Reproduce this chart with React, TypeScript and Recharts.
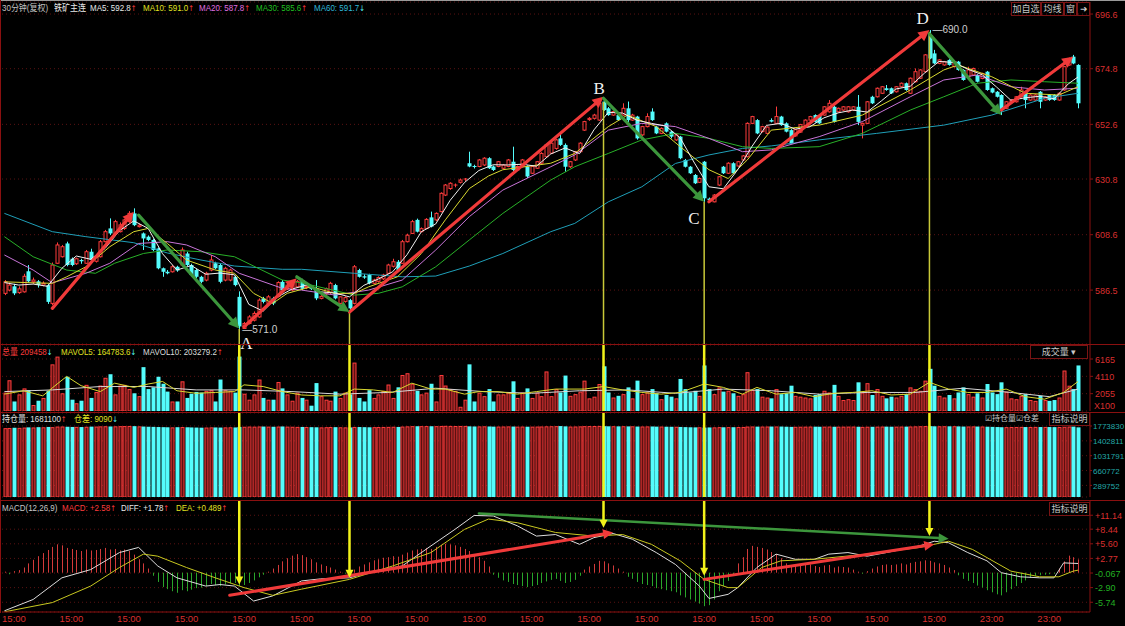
import React from 'react'
import { ComposedChart, Bar, Line, XAxis, YAxis, CartesianGrid, ReferenceLine, ReferenceDot } from 'recharts'

// ---- price data (30 min bars, oldest first) ----
const opens = [
  585.2, 586.5, 588.0, 585.5, 585.8, 594.0, 589.8, 590.0, 588.5, 588.5,
  581.2, 597.2, 599.8, 605.1, 599.0, 597.0, 598.5, 597.2, 601.8, 598.0,
  599.8, 605.8, 611.1, 609.1, 609.8, 611.1, 613.8, 617.1, 611.8, 609.1,
  607.8, 606.5, 603.1, 595.2, 593.8, 593.8, 595.8, 596.5, 601.1, 596.5,
  594.5, 591.8, 590.5, 594.5, 597.2, 596.5, 590.5, 590.5, 591.8, 583.8,
  571.2, 573.2, 574.5, 575.8, 583.2, 581.2, 583.2, 584.0, 589.8, 587.0,
  586.5, 587.8, 590.5, 587.5, 588.0, 587.2, 583.2, 585.0, 585.5, 588.5,
  581.2, 582.0, 582.5, 581.2, 594.5, 592.0, 592.5, 589.2, 590.0, 591.0,
  593.2, 596.0, 597.8, 597.2, 605.8, 609.1, 614.5, 609.8, 611.1, 615.5,
  614.5, 617.8, 624.4, 627.0, 628.0, 629.5, 630.4, 637.1, 635.8, 635.8,
  636.4, 639.1, 635.8, 635.8, 635.1, 635.8, 637.7, 634.4, 635.8, 635.8,
  633.1, 635.1, 637.1, 639.7, 641.1, 643.0, 647.0, 644.4, 635.7, 638.4,
  641.7, 650.3, 654.5, 655.0, 654.3, 661.7, 659.0, 656.3, 656.3, 656.3,
  659.0, 654.3, 655.7, 648.4, 651.7, 657.7, 651.7, 649.0, 653.0, 649.7,
  646.4, 647.7, 638.4, 635.7, 632.4, 629.5, 637.7, 623.0, 621.7, 628.4,
  635.7, 633.1, 637.1, 636.0, 638.4, 639.7, 653.0, 654.3, 649.7, 649.0,
  654.3, 653.0, 655.7, 653.0, 650.3, 648.0, 649.5, 652.0, 654.3, 656.3,
  656.3, 656.3, 657.6, 659.6, 657.6, 658.3, 657.6, 658.3, 659.6, 652.3,
  653.0, 663.6, 663.6, 665.0, 667.0, 667.0, 665.6, 667.6, 669.0, 665.0,
  669.6, 671.0, 673.6, 688.2, 680.9, 676.9, 676.3, 678.3, 675.6, 677.6,
  674.3, 671.6, 672.3, 672.3, 670.9, 673.6, 667.0, 665.6, 664.3, 659.0,
  661.6, 661.6, 663.6, 665.6, 662.3, 662.3, 665.6, 662.3, 664.3, 664.3,
  662.3, 666.3, 676.3, 679.6, 676.3,
]
const highs = [
  590.5, 589.5, 589.0, 588.0, 593.0, 596.5, 591.5, 590.5, 590.0, 589.0,
  597.5, 605.5, 604.5, 605.8, 599.5, 599.5, 599.0, 602.5, 603.0, 600.5,
  606.5, 610.5, 615.1, 614.5, 613.5, 615.0, 618.0, 619.1, 613.0, 609.5,
  608.3, 607.0, 603.5, 595.5, 594.5, 596.5, 596.2, 603.5, 601.8, 597.0,
  595.0, 592.2, 593.8, 600.5, 597.8, 597.0, 595.8, 595.0, 592.2, 586.0,
  573.8, 576.5, 578.0, 583.2, 583.8, 584.5, 583.8, 590.0, 590.5, 589.0,
  589.5, 590.5, 591.0, 588.5, 588.5, 590.5, 584.5, 587.5, 589.8, 589.0,
  584.0, 584.0, 583.0, 596.5, 595.0, 592.8, 593.0, 591.0, 592.0, 593.0,
  597.0, 599.0, 598.5, 606.5, 609.0, 614.5, 615.0, 611.5, 615.2, 617.8,
  617.5, 625.5, 628.8, 629.5, 629.0, 631.0, 631.2, 641.7, 636.5, 638.8,
  639.5, 639.5, 636.2, 638.0, 636.8, 638.8, 643.7, 636.2, 638.8, 636.2,
  636.2, 638.0, 641.5, 644.8, 645.5, 646.8, 649.0, 645.0, 638.0, 642.0,
  645.5, 654.0, 655.5, 656.8, 661.5, 663.0, 659.5, 658.0, 656.8, 661.0,
  661.7, 656.8, 656.0, 652.0, 657.0, 659.0, 652.0, 651.4, 653.4, 650.0,
  648.8, 648.0, 638.8, 636.0, 632.8, 631.4, 638.0, 623.4, 624.8, 632.0,
  636.0, 637.5, 637.5, 638.0, 640.4, 653.4, 656.0, 654.7, 652.0, 651.8,
  655.0, 659.7, 656.0, 653.4, 650.7, 650.8, 652.8, 654.6, 656.0, 656.6,
  656.6, 659.9, 662.3, 660.0, 659.3, 659.9, 659.9, 659.9, 664.3, 653.3,
  661.9, 664.0, 667.3, 667.9, 668.3, 667.3, 667.9, 669.3, 669.3, 671.3,
  674.9, 674.6, 680.6, 690.2, 682.3, 678.6, 677.9, 678.6, 677.9, 677.9,
  674.6, 675.6, 675.2, 672.6, 673.2, 673.9, 667.3, 665.9, 664.6, 661.9,
  662.6, 663.9, 667.6, 665.9, 664.6, 664.6, 665.9, 663.9, 664.6, 664.6,
  665.3, 675.9, 679.2, 680.3, 676.6,
]
const lows = [
  584.5, 586.0, 584.5, 585.0, 585.5, 589.5, 589.0, 587.5, 588.0, 581.0,
  580.5, 597.0, 599.5, 596.0, 596.0, 596.5, 597.0, 597.0, 598.0, 597.5,
  599.5, 605.5, 608.5, 608.8, 609.5, 610.5, 613.5, 612.0, 611.5, 602.5,
  606.0, 602.0, 594.8, 591.8, 592.8, 593.5, 593.8, 596.0, 596.0, 592.0,
  591.2, 589.2, 590.0, 594.0, 594.8, 589.2, 590.0, 590.0, 588.0, 571.0,
  571.0, 572.8, 574.0, 575.5, 581.2, 580.8, 580.5, 583.5, 586.0, 586.5,
  586.0, 587.5, 586.5, 587.0, 586.5, 582.5, 582.8, 584.5, 585.0, 582.8,
  580.8, 581.5, 577.8, 580.8, 591.5, 591.0, 588.8, 588.8, 589.5, 590.5,
  593.0, 595.5, 594.0, 597.0, 605.5, 609.0, 609.5, 609.5, 611.0, 611.5,
  614.0, 617.5, 624.0, 626.5, 627.5, 629.0, 630.0, 635.5, 635.0, 635.5,
  636.0, 634.8, 634.0, 635.5, 634.8, 635.5, 634.0, 634.0, 635.5, 631.2,
  632.8, 634.8, 636.8, 639.5, 640.8, 642.5, 644.0, 633.7, 635.2, 638.0,
  641.4, 650.0, 654.0, 654.5, 654.0, 658.0, 656.0, 656.0, 654.0, 656.0,
  653.0, 654.0, 646.5, 648.0, 651.4, 654.0, 648.7, 648.7, 649.4, 647.0,
  646.0, 638.7, 635.4, 632.8, 628.8, 629.2, 621.7, 622.0, 621.5, 628.0,
  632.8, 632.8, 632.8, 635.7, 638.0, 639.4, 652.7, 648.7, 649.4, 648.7,
  653.4, 652.7, 652.0, 649.4, 644.8, 647.7, 649.2, 651.7, 654.0, 653.3,
  652.7, 656.0, 657.3, 653.3, 657.3, 658.0, 657.3, 658.0, 652.3, 647.0,
  652.7, 660.7, 663.3, 664.7, 666.0, 664.7, 665.3, 667.3, 666.0, 664.7,
  669.3, 670.7, 673.3, 678.6, 676.6, 676.6, 676.0, 676.0, 675.3, 674.0,
  670.0, 671.3, 672.0, 669.3, 670.6, 666.0, 665.0, 663.3, 656.3, 658.7,
  661.3, 661.3, 663.3, 659.0, 662.0, 662.0, 659.0, 662.0, 662.0, 662.0,
  662.0, 666.0, 676.0, 676.6, 659.0,
]
const closes = [
  589.8, 588.5, 585.2, 587.0, 592.0, 590.0, 590.5, 588.5, 589.2, 581.8,
  596.5, 604.5, 603.8, 596.5, 596.5, 599.0, 598.0, 601.8, 598.5, 599.8,
  605.8, 609.8, 609.1, 613.8, 612.5, 614.5, 617.1, 612.4, 612.4, 607.1,
  606.5, 602.5, 595.2, 593.8, 593.2, 595.8, 594.3, 602.5, 596.5, 592.5,
  591.8, 589.8, 593.2, 598.5, 595.2, 589.8, 595.2, 594.5, 588.5, 572.0,
  573.2, 575.8, 577.2, 582.5, 581.8, 583.8, 581.2, 589.5, 586.5, 588.5,
  589.0, 590.0, 587.0, 588.0, 587.0, 583.2, 584.0, 587.0, 589.2, 583.2,
  583.8, 583.5, 579.2, 595.8, 591.8, 591.5, 589.2, 590.5, 591.5, 592.5,
  596.5, 597.8, 594.5, 605.8, 608.4, 613.8, 609.8, 611.0, 614.7, 611.8,
  617.1, 625.1, 628.4, 629.1, 628.4, 630.4, 630.8, 635.8, 635.5, 638.4,
  639.1, 635.1, 634.4, 637.7, 636.4, 638.4, 634.4, 635.8, 638.4, 631.8,
  635.8, 637.7, 641.0, 644.4, 645.1, 646.4, 644.4, 635.7, 637.7, 641.7,
  645.1, 653.7, 655.0, 656.3, 661.0, 658.3, 656.3, 657.7, 654.3, 659.0,
  654.3, 656.3, 647.0, 651.7, 655.7, 654.3, 649.0, 651.0, 649.7, 647.7,
  648.4, 639.1, 635.7, 633.1, 629.1, 631.0, 623.1, 622.4, 624.4, 631.7,
  633.1, 637.1, 633.1, 637.7, 640.0, 653.0, 655.7, 649.0, 651.7, 651.5,
  653.7, 655.7, 652.3, 649.7, 645.1, 650.5, 652.5, 654.3, 655.7, 653.6,
  653.0, 659.6, 661.0, 653.6, 659.0, 659.6, 659.6, 659.6, 653.6, 653.0,
  661.6, 661.0, 667.0, 667.6, 666.3, 665.0, 667.6, 669.0, 666.3, 671.0,
  673.6, 674.3, 680.3, 678.9, 676.9, 678.3, 677.6, 676.3, 677.6, 674.3,
  670.3, 674.3, 674.9, 669.6, 672.9, 666.3, 665.3, 663.6, 658.3, 661.6,
  662.3, 663.6, 666.3, 662.3, 664.3, 664.3, 661.6, 663.6, 662.3, 662.3,
  665.0, 675.6, 678.9, 676.9, 661.0,
]

// moving averages, read at sampled bars: [bar, value]
const ma5Pts = [
  [0, 589.5], [3, 588.5], [6, 588.9], [9, 588.0], [12, 595.2], [15, 600.1], [18, 598.8], [21, 603.1],
  [24, 610.2], [27, 614.1], [30, 611.1], [33, 601.0], [36, 594.5], [39, 596.3], [42, 592.8], [45, 593.3],
  [48, 592.6], [51, 580.8], [54, 578.1], [57, 583.8], [60, 586.9], [63, 588.5], [66, 585.8], [69, 585.3],
  [72, 583.8], [75, 588.4], [78, 590.9], [81, 593.8], [84, 600.6], [87, 609.8], [90, 612.9], [93, 622.3],
  [96, 629.4], [99, 634.2], [102, 636.5], [105, 636.4], [108, 636.7], [111, 635.9], [114, 640.8], [117, 643.2],
  [120, 640.9], [123, 650.4], [126, 657.4], [129, 657.1], [132, 654.2], [135, 653.0], [138, 651.9], [141, 647.2],
  [144, 637.1], [147, 627.7], [150, 626.9], [153, 634.5], [156, 643.9], [159, 652.2], [162, 653.0], [165, 650.7],
  [168, 651.6], [171, 655.2], [174, 657.2], [177, 658.3], [180, 657.5], [183, 662.0], [186, 666.7], [189, 667.8],
  [192, 673.1], [195, 677.7], [198, 677.3], [201, 674.6], [204, 672.4], [207, 667.5], [210, 662.2], [213, 663.2],
  [216, 663.8], [219, 662.8], [222, 668.8], [224, 671.5],
]
const ma10Pts = [
  [0, 589.8], [6, 589.4], [10, 589.2], [13, 591.8], [17, 595.8], [22, 603.8], [27, 609.8], [30, 611.1],
  [34, 605.1], [38, 598.5], [44, 594.5], [48, 593.2], [52, 585.2], [56, 581.2], [59, 585.2], [64, 587.8],
  [69, 585.2], [73, 585.2], [76, 587.8], [82, 591.8], [87, 601.1], [92, 614.5], [97, 627.0], [101, 632.0],
  [104, 634.5], [114, 637.1], [119, 641.0], [126, 651.7], [130, 656.3], [136, 651.7], [141, 643.7], [147, 634.5],
  [151, 631.0], [155, 638.4], [160, 650.3], [170, 652.3], [179, 656.3], [189, 666.3], [196, 674.3], [199, 676.3],
  [206, 671.6], [213, 665.0], [220, 664.3], [224, 667.6],
]
const ma20Pts = [
  [0, 600.5], [6, 594.5], [10, 589.4], [17, 593.2], [22, 597.2], [28, 605.1], [34, 605.8], [38, 604.5],
  [44, 599.8], [49, 593.2], [58, 587.2], [62, 586.5], [69, 584.5], [76, 586.5], [83, 590.5], [90, 602.5],
  [97, 615.8], [104, 626.4], [114, 635.7], [119, 640.4], [126, 650.3], [133, 653.0], [140, 651.7], [147, 647.0],
  [154, 641.7], [160, 642.4], [170, 647.7], [179, 653.7], [189, 663.6], [196, 670.3], [203, 672.3], [210, 667.6],
  [217, 666.3], [224, 667.0],
]
const ma30Pts = [
  [0, 607.8], [6, 599.8], [13, 594.5], [19, 593.2], [23, 597.2], [29, 601.1], [34, 602.5], [41, 601.8],
  [48, 599.8], [58, 590.5], [62, 589.4], [73, 584.5], [78, 585.2], [83, 587.8], [90, 595.8], [97, 606.5],
  [104, 617.1], [114, 630.4], [119, 635.7], [126, 641.0], [133, 646.4], [140, 649.0], [147, 647.0], [154, 643.7],
  [160, 643.0], [170, 643.7], [179, 649.0], [189, 658.3], [196, 663.6], [203, 669.0], [210, 670.3], [217, 669.6],
  [224, 669.0],
]
const ma60Pts = [
  [0, 617.1], [10, 609.8], [17, 607.8], [27, 605.4], [34, 601.3], [41, 598.5], [48, 596.1], [58, 594.8],
  [62, 594.8], [73, 593.2], [83, 591.8], [90, 592.1], [97, 596.1], [104, 601.1], [114, 609.8], [119, 613.1],
  [126, 621.7], [133, 627.7], [140, 637.0], [147, 640.4], [154, 643.0], [160, 644.0], [170, 646.4], [182, 649.0],
  [196, 652.3], [206, 656.3], [217, 663.0], [224, 665.0],
]

// volume (x100 lots)
const volumes = [
  2180, 3645, 1130, 1970, 2680, 2470, 710, 1220, 1550, 2390,
  5530, 6450, 2100, 4060, 1340, 920, 1220, 3100, 1550, 2260,
  3020, 3940, 4360, 1970, 3020, 3100, 2600, 2100, 1760, 5200,
  2600, 2810, 4060, 3230, 2300, 1130, 1130, 3520, 1550, 2050,
  2260, 2180, 2390, 2470, 1130, 3730, 2470, 2390, 2180, 6450,
  2050, 1340, 1970, 3730, 1550, 1340, 1340, 3440, 2680, 1970,
  1220, 2180, 1550, 1340, 630, 3310, 1760, 1340, 1220, 2300,
  1550, 2180, 1970, 5740, 1550, 1130, 2470, 1550, 1970, 2390,
  3140, 1550, 2810, 4270, 4480, 3230, 2390, 1970, 2180, 3230,
  1130, 4270, 3020, 2600, 2390, 500, 1340, 5530, 1130, 2180,
  1760, 2600, 1130, 1970, 1970, 2180, 3520, 1550, 2180, 2680,
  1550, 2180, 1760, 4690, 1760, 2600, 2200, 4200, 1800, 2000,
  2300, 3600, 1500, 1700, 3200, 5300, 2200, 1600, 1800, 2000,
  2800, 1500, 3600, 2000, 2200, 2600, 2100, 1400, 1900, 1700,
  1500, 3800, 2600, 2200, 2400, 1800, 5400, 2600, 2000, 2800,
  2300, 2400, 2100, 1800, 2000, 4600, 2500, 2600, 1700, 1600,
  1500, 2600, 2000, 2100, 3000, 1800, 1700, 1600, 1500, 1900,
  2000, 2400, 2200, 3100, 1800, 1300, 1400, 1300, 3400, 2200,
  3300, 1900, 2600, 1800, 1500, 1700, 1600, 1800, 2000, 2800,
  2600, 2400, 3600, 5000, 3000, 1800, 1600, 1900, 1500, 2200,
  2800, 2000, 1700, 2100, 1600, 3200, 2200, 2000, 3400, 2300,
  1500, 1400, 1800, 2000, 1300, 1200, 1800, 1300, 1200, 1300,
  1600, 4800, 3000, 2600, 5400,
]
const mavol5Pts = [
  [0, 2000], [4, 2400], [8, 1800], [11, 3200], [13, 4100], [16, 3000], [20, 2300], [23, 3300], [27, 2800],
  [30, 3200], [33, 3500], [36, 2400], [40, 2100], [44, 2200], [48, 2300], [50, 3100], [54, 2900], [58, 2300],
  [62, 1900], [66, 1800], [70, 1800], [73, 2600], [77, 2500], [81, 2200], [85, 3300], [89, 2600], [92, 2600],
  [96, 2000], [99, 2300], [103, 2300], [107, 2000], [111, 2300], [115, 2600], [118, 2600], [121, 2600],
  [125, 2900], [129, 2500], [133, 2200], [137, 2000], [141, 2200], [146, 3200], [150, 2800], [154, 2000],
  [157, 2800], [161, 2000], [165, 2200], [169, 1700], [173, 2100], [177, 2200], [181, 2400], [185, 1900],
  [189, 2000], [193, 3400], [197, 2600], [201, 2200], [205, 2200], [209, 2600], [213, 1700], [217, 1400],
  [221, 2200], [224, 3500],
]
const mavol10Pts = [
  [0, 2300], [10, 2500], [20, 2900], [30, 2900], [40, 2500], [50, 2500], [60, 2300], [70, 2000], [80, 2200],
  [90, 2700], [100, 2300], [110, 2100], [120, 2400], [130, 2500], [140, 2100], [150, 2600], [160, 2400],
  [170, 2000], [180, 2200], [190, 2200], [200, 2700], [210, 2200], [218, 1700], [224, 2600],
]

// open interest, thousands of lots
const openInterest = [
  1720, 1725, 1730, 1728, 1735, 1740, 1738, 1745, 1742, 1750,
  1745, 1760, 1762, 1755, 1750, 1752, 1748, 1755, 1758, 1760,
  1765, 1768, 1762, 1766, 1770, 1772, 1775, 1770, 1765, 1760,
  1755, 1752, 1748, 1745, 1742, 1740, 1744, 1748, 1742, 1738,
  1735, 1732, 1736, 1740, 1738, 1735, 1740, 1742, 1738, 1750,
  1755, 1760, 1758, 1762, 1760, 1758, 1755, 1760, 1762, 1758,
  1755, 1752, 1750, 1748, 1745, 1742, 1740, 1744, 1748, 1745,
  1742, 1740, 1738, 1750, 1748, 1745, 1742, 1745, 1748, 1750,
  1752, 1755, 1750, 1760, 1765, 1770, 1768, 1770, 1772, 1768,
  1770, 1775, 1778, 1776, 1774, 1775, 1776, 1765, 1762, 1764,
  1766, 1762, 1758, 1760, 1762, 1764, 1760, 1758, 1760, 1756,
  1758, 1760, 1762, 1766, 1768, 1770, 1772, 1765, 1760, 1762,
  1765, 1770, 1772, 1774, 1776, 1770, 1766, 1768, 1765, 1768,
  1764, 1766, 1760, 1762, 1764, 1762, 1758, 1760, 1756, 1754,
  1755, 1750, 1746, 1742, 1740, 1742, 1735, 1738, 1740, 1745,
  1742, 1746, 1744, 1748, 1750, 1760, 1762, 1758, 1760, 1761,
  1760, 1762, 1760, 1756, 1752, 1754, 1756, 1758, 1760, 1757,
  1755, 1758, 1760, 1755, 1757, 1758, 1759, 1760, 1755, 1752,
  1756, 1754, 1758, 1760, 1758, 1756, 1758, 1760, 1758, 1762,
  1765, 1768, 1772, 1770, 1766, 1767, 1768, 1766, 1768, 1764,
  1760, 1762, 1764, 1760, 1762, 1756, 1752, 1748, 1744, 1746,
  1748, 1750, 1752, 1748, 1750, 1752, 1748, 1750, 1748, 1746,
  1748, 1755, 1760, 1758, 1740,
]

// MACD(12,26,9)
const macdHist = [
  0.2, -0.3, 0.3, 0.5, 1.0, 1.8, 2.5, 3.2, 3.8, 4.4,
  5.0, 5.5, 5.3, 4.8, 4.6, 4.4, 4.2, 4.5, 4.3, 4.4,
  4.6, 4.8, 4.5, 4.6, 4.3, 4.5, 4.2, 3.5, 2.6, 1.8,
  0.8, -0.6, -1.8, -2.8, -3.2, -3.6, -3.9, -3.4, -3.6, -3.3,
  -3.0, -2.9, -2.6, -2.2, -2.4, -2.6, -2.3, -2.1, -2.0, -2.6,
  -2.4, -2.0, -1.5, -0.9, -0.4, 0.2, 0.8, 1.5, 2.2, 2.8,
  3.3, 3.6, 3.4, 3.0, 2.6, 2.0, 1.6, 1.3, 1.0, 0.6,
  0.2, -0.2, -0.4, 0.6, 1.2, 1.6, 2.0, 2.4, 2.6, 2.9,
  3.0, 3.2, 3.1, 3.5, 3.9, 4.3, 4.5, 4.6, 4.8, 4.6,
  5.0, 5.4, 5.6, 5.5, 5.3, 5.0, 4.6, 4.2, 3.6, 3.0,
  2.3, 1.2, -0.4, -1.0, -1.5, -1.8, -2.2, -2.4, -2.6, -2.8,
  -2.6, -2.4, -2.0, -1.7, -1.4, -1.2, -1.6, -2.0, -1.8, -1.4,
  -0.6, 0.6, 1.2, 1.7, 2.3, 2.2, 1.8, 1.4, 0.8, 0.2,
  -0.8, -1.2, -1.8, -2.2, -2.4, -2.6, -3.0, -3.2, -3.4, -3.6,
  -3.8, -4.4, -4.8, -5.2, -5.6, -6.0, -6.5, -6.3, -5.2, -3.6,
  -2.6, -1.6, -0.6, 1.8, 3.0, 4.6, 5.2, 5.0, 4.8, 4.5,
  4.0, 3.6, 2.8, 1.8, 1.2, 1.4, 1.6, 1.5, 1.6, 1.3,
  1.1, 1.4, 1.5, 1.0, 1.2, 1.1, 1.0, 0.6, 0.2, -0.2,
  0.3, 0.8, 1.2, 1.5, 1.6, 1.5, 1.6, 1.8, 1.6, 1.9,
  2.1, 2.2, 2.4, 2.3, 2.0, 1.8, 1.5, 1.0, 0.5, -0.5,
  -1.2, -1.6, -2.0, -2.5, -2.9, -3.4, -3.8, -4.2, -4.4, -3.8,
  -3.2, -2.6, -2.0, -1.5, -1.0, -0.6, -0.5, -0.4, -0.3, -0.2,
  0.8, 2.2, 3.3, 3.0, 2.58,
]
const diffPts = [
  [0, -7.4], [6, -5.2], [12, -1.0], [18, 0.6], [24, 3.9], [28, 4.9], [32, 1.3], [36, -1.0], [42, -2.6],
  [45, -2.3], [48, -2.6], [52, -5.5], [56, -4.5], [62, -1.6], [66, -1.2], [72, -1.0], [77, 0.3], [83, 1.3],
  [89, 5.2], [94, 8.4], [98, 11.1], [102, 11.0], [107, 9.1], [111, 7.1], [115, 7.4], [120, 5.5], [123, 6.8],
  [127, 7.6], [131, 6.5], [136, 3.9], [140, 1.6], [145, -2.6], [147, -5.0], [151, -4.2], [153, -2.9],
  [157, 1.0], [161, 3.6], [165, 2.6], [169, 2.6], [172, 3.6], [176, 3.9], [180, 3.2], [184, 3.9], [191, 5.2],
  [194, 6.1], [197, 5.8], [201, 3.9], [205, 2.3], [208, 0], [212, -0.8], [216, -1.0], [219, -1.0], [221, 1.9],
  [224, 1.78],
]
const deaPts = [
  [0, -7.6], [10, -5.8], [18, -2.6], [24, 1.0], [29, 3.6], [32, 3.2], [38, 1.0], [44, -1.0], [50, -2.9],
  [56, -4.4], [62, -3.2], [72, -1.3], [81, 1.3], [89, 3.9], [96, 8.4], [101, 10.4], [107, 9.7], [115, 7.8],
  [123, 7.1], [129, 7.4], [135, 5.5], [141, 2.3], [146, -1.3], [151, -2.9], [153, -2.9], [158, 1.0],
  [162, 2.3], [169, 2.6], [180, 3.6], [191, 4.9], [197, 6.1], [202, 4.5], [210, 0.3], [216, -0.8],
  [220, -0.8], [223, 0.3], [224, 0.49],
]

// axis ticks
const priceTicks = [696.6, 674.8, 652.6, 630.8, 608.6, 586.5]
const volTicks = [6165, 4110, 2055]
const oiTicks = [1773.83, 1402.811, 1031.791, 660.772, 289.752]
const macdTicks = [11.14, 8.44, 5.6, 2.77, -0.067, -2.9, -5.74]
const macdTickText = ['+11.14', '+8.44', '+5.60', '+2.77', '-0.067', '-2.90', '-5.74']
const timeTicks = [2, 14, 26, 38, 50, 62, 74, 86, 98, 110, 122, 134, 146, 158, 170, 182, 194, 206, 218]
const timeLabels = [
  '15:00', '15:00', '15:00', '15:00', '15:00', '15:00', '15:00', '15:00', '15:00', '15:00',
  '15:00', '15:00', '15:00', '15:00', '15:00', '15:00', '15:00', '23:00', '23:00',
]

// marked turning points [bar, price] and wave arrows
const pivots = { A: [49, 571.0], A2: [72, 577.8], B: [125, 661.5], C: [146, 621.7], D: [193, 689.5] }
const upWaves = [
  [[10, 579.2], [27, 617.7]], [[50, 571.9], [61, 591.2]], [[72, 577.8], [125, 663.6]],
  [[147, 621.7], [193, 690.2]], [[208, 658.3], [223, 679.6]],
]
const downWaves = [
  [[28, 616.4], [49, 571.2]], [[61, 591.8], [72, 577.8]], [[125, 663.0], [146, 621.7]], [[193, 688.7], [208, 656.3]],
]
const macdRed = [[[47, -4.4], [127, 7.8]], [[146, -1.3], [194, 5.5]]]
const macdGreen = [[[99, 11.5], [197, 6.6]]]
const macdDrop = [[49, -2.3], [72, -1.0], [125, 8.7], [146, -0.6], [193, 7.1]]

const SLOTS = 227
const RED = '#ff3c3c'
const CYAN = '#54fcfc'
const AX = '#d92f2f'
const LINE = '#8a1010'
const GRID = '#5a1212'
const FONT = '"Liberation Sans", Arial, sans-serif'
const MIX = '"Liberation Sans", "Noto Sans CJK SC", sans-serif'

const toMap = (pts: number[][]) => new Map(pts.map(([i, v]) => [i, v]))
const m5 = toMap(ma5Pts), m10 = toMap(ma10Pts), m20 = toMap(ma20Pts), m30 = toMap(ma30Pts), m60 = toMap(ma60Pts)
const mv5 = toMap(mavol5Pts), mv10 = toMap(mavol10Pts), mdiff = toMap(diffPts), mdea = toMap(deaPts)

const rows = Array.from({ length: SLOTS }, (_, i) => ({
  i,
  range: i < closes.length ? [lows[i], highs[i]] : undefined,
  open: opens[i], high: highs[i], low: lows[i], close: closes[i],
  vol: volumes[i], oi: openInterest[i], hist: macdHist[i],
  ma5: m5.get(i), ma10: m10.get(i), ma20: m20.get(i), ma30: m30.get(i), ma60: m60.get(i),
  mv5: mv5.get(i), mv10: mv10.get(i), diff: mdiff.get(i), dea: mdea.get(i),
}))

const box = (p: any) => {
  const top = Math.min(p.y, p.y + p.height)
  return { top, h: Math.abs(p.height), cx: Math.round(p.x + p.width / 2) + 0.5 }
}

function Candle(props: any) {
  const { payload } = props
  if (!payload || payload.close == null) return null
  const { top, h, cx } = box(props)
  const { open, close, high, low } = payload
  const span = high - low
  const py = (v: number) => (span > 0 ? top + ((high - v) / span) * h : top)
  const up = close >= open
  const c = up ? RED : CYAN
  const bt = py(Math.max(open, close))
  const bb = py(Math.min(open, close))
  return (
    <g>
      <line x1={cx} x2={cx} y1={top} y2={top + h} stroke={c} strokeWidth={1} />
      {bb - bt < 1.2 ? (
        <line x1={cx - 2} x2={cx + 2} y1={bt} y2={bt} stroke={c} strokeWidth={1} />
      ) : up ? (
        <rect x={cx - 1.5} y={bt} width={3} height={bb - bt} fill="#000" stroke={c} strokeWidth={1} />
      ) : (
        <rect x={cx - 2} y={bt} width={4} height={bb - bt} fill={c} />
      )}
    </g>
  )
}

function ColumnBar(props: any) {
  const { payload } = props
  if (!payload || payload.close == null) return null
  const { top, h, cx } = box(props)
  const up = payload.close >= payload.open
  return up ? (
    <rect x={cx - 1.5} y={top + 0.5} width={3} height={Math.max(h - 0.5, 0)} fill="#5c1010" stroke={RED} strokeWidth={1} />
  ) : (
    <rect x={cx - 2} y={top} width={4} height={h} fill={CYAN} />
  )
}

function HistBar(props: any) {
  const { payload } = props
  if (!payload || payload.hist == null) return null
  const { top, h, cx } = box(props)
  return <line x1={cx} x2={cx} y1={top} y2={top + h} stroke={payload.hist >= 0 ? '#d23a3a' : '#2aa52a'} strokeWidth={1} />
}

const arrowShape = (color: string, w: number, head: number) => (p: any) => {
  const { x1, y1, x2, y2 } = p
  if (x1 == null) return null
  const a = Math.atan2(y2 - y1, x2 - x1)
  const hx = x2 - head * Math.cos(a)
  const hy = y2 - head * Math.sin(a)
  const nx = Math.sin(a) * head * 0.5
  const ny = -Math.cos(a) * head * 0.5
  return (
    <g>
      <line x1={x1} y1={y1} x2={hx} y2={hy} stroke={color} strokeWidth={w} strokeLinecap="round" />
      <polygon points={`${x2},${y2} ${hx + nx},${hy + ny} ${hx - nx},${hy - ny}`} fill={color} />
    </g>
  )
}
const plainShape = (color: string, w: number) => (p: any) =>
  p.x1 == null ? null : <line x1={p.x1} y1={p.y1} x2={p.x2} y2={p.y2} stroke={color} strokeWidth={w} />

const rightTick = (color: (v: number) => string, fmt: (v: number) => string, size = 9) => (p: any) => (
  <text x={p.x} y={p.y} dy={3.5} fill={color(p.payload.value)} fontSize={size} fontFamily={FONT} textAnchor="start">
    {fmt(p.payload.value)}
  </text>
)

const textAt = (txt: string, dx: number, dy: number, size: number, color: string, serif = false) => (p: any) => (
  <text x={p.cx + dx} y={p.cy + dy} fill={color} fontSize={size} fontFamily={serif ? '"Liberation Serif", "DejaVu Serif", serif' : FONT}>
    {txt}
  </text>
)

const ma = (key: string, color: string) => (
  <Line key={key} dataKey={key} stroke={color} strokeWidth={1} dot={false} connectNulls isAnimationActive={false} />
)

const up = <span style={{ color: RED, fontFamily: '"DejaVu Sans"', fontSize: 8 }}>↑</span>
const dn = <span style={{ color: CYAN, fontFamily: '"DejaVu Sans"', fontSize: 8 }}>↓</span>

// header line: [left, colour, content]; narrow software font, so squeeze a bit
function Header({ top, items }: { top: number; items: [number, string, any][] }) {
  return (
    <>
      {items.map(([x, color, content], k) => (
        <div key={k} style={{ position: 'absolute', left: x, top, fontSize: 9.5, lineHeight: '12px', fontFamily: MIX, color, whiteSpace: 'nowrap', transform: 'scaleX(0.84)', transformOrigin: 'left center' }}>
          {content}
        </div>
      ))}
    </>
  )
}

function Btn({ x, y, w, children }: any) {
  return (
    <div style={{ position: 'absolute', left: x, top: y, width: w, height: 14, border: '1px solid #7a1414', color: '#c8c8c8', fontSize: 9, lineHeight: '12px', textAlign: 'center', fontFamily: MIX, boxSizing: 'border-box', whiteSpace: 'nowrap', overflow: 'hidden' }}>
      {children}
    </div>
  )
}

export default function App() {
  const yellowMain = '#c8c838'
  const yellow = '#f2f21a'
  return (
    <div style={{ position: 'fixed', left: 0, top: 0, width: 1125, height: 626, background: '#000', overflow: 'hidden' }}>
      {/* price pane */}
      <div style={{ position: 'absolute', left: 0, top: 0 }}>
        <ComposedChart width={1125} height={358} data={rows} margin={{ top: 2, right: 0, bottom: 14, left: 2 }} barCategoryGap={0}>
          <CartesianGrid vertical={false} stroke={GRID} strokeDasharray="1 3" />
          <XAxis dataKey="i" hide />
          <YAxis orientation="right" width={35} type="number" domain={[565, 701.4]} allowDataOverflow ticks={priceTicks} interval={0}
            axisLine={{ stroke: LINE }} tickLine={{ stroke: LINE }} tickSize={3} tickMargin={2}
            tick={rightTick(() => AX, (v) => v.toFixed(1))} />
          <Bar dataKey="range" shape={Candle} isAnimationActive={false} />
          {ma('ma60', '#1f9fb8')}
          {ma('ma30', '#28b028')}
          {ma('ma20', '#c874d8')}
          {ma('ma10', '#d8d830')}
          {ma('ma5', '#f0f0f0')}
          {Object.values(pivots).map(([b, v], k) => (
            <ReferenceLine key={'ym' + k} segment={[{ x: b, y: v }, { x: b, y: 565 }]} ifOverflow="visible" shape={plainShape(yellowMain, 1.5)} />
          ))}
          {upWaves.map((s, k) => (
            <ReferenceLine key={'u' + k} segment={[{ x: s[0][0], y: s[0][1] }, { x: s[1][0], y: s[1][1] }]} ifOverflow="visible" shape={arrowShape('#f03a3a', 3.2, 11)} />
          ))}
          {downWaves.map((s, k) => (
            <ReferenceLine key={'d' + k} segment={[{ x: s[0][0], y: s[0][1] }, { x: s[1][0], y: s[1][1] }]} ifOverflow="visible" shape={arrowShape('#3c963c', 3.2, 11)} />
          ))}
          <ReferenceDot x={pivots.A[0]} y={pivots.A[1]} r={0} ifOverflow="visible" shape={textAt('A', 1, 20, 17, '#f0f0f0', true)} />
          <ReferenceDot x={pivots.B[0]} y={663.6} r={0} ifOverflow="visible" shape={textAt('B', -10, -3, 17, '#f0f0f0', true)} />
          <ReferenceDot x={pivots.C[0]} y={pivots.C[1]} r={0} ifOverflow="visible" shape={textAt('C', -16, 22, 17, '#f0f0f0', true)} />
          <ReferenceDot x={pivots.D[0]} y={690.2} r={0} ifOverflow="visible" shape={textAt('D', -13, -6, 17, '#f0f0f0', true)} />
          <ReferenceDot x={pivots.A[0]} y={571.0} r={0} ifOverflow="visible" shape={textAt('—571.0', 3, 4, 10, '#d0d0d0')} />
          <ReferenceDot x={pivots.D[0]} y={690.2} r={0} ifOverflow="visible" shape={textAt('—690.0', 3, 3, 10, '#d0d0d0')} />
        </ComposedChart>
      </div>

      {/* volume pane */}
      <div style={{ position: 'absolute', left: 0, top: 344 }}>
        <ComposedChart width={1125} height={68} data={rows} margin={{ top: 1, right: 0, bottom: 1, left: 2 }} barCategoryGap={0}>
          <CartesianGrid vertical={false} stroke={GRID} strokeDasharray="1 3" />
          <XAxis dataKey="i" hide />
          <YAxis orientation="right" width={35} type="number" domain={[0, 7825]} allowDataOverflow ticks={volTicks} interval={0}
            axisLine={{ stroke: LINE }} tickLine={{ stroke: LINE }} tickSize={3} tickMargin={2}
            tick={rightTick(() => AX, (v) => String(v))} />
          <Bar dataKey="vol" shape={ColumnBar} isAnimationActive={false} />
          {ma('mv10', '#d8d8d8')}
          {ma('mv5', '#d8d830')}
          {Object.values(pivots).map(([b], k) => (
            <ReferenceLine key={'yv' + k} x={b} stroke={yellow} strokeWidth={2.5} ifOverflow="visible" />
          ))}
        </ComposedChart>
      </div>

      {/* open interest pane */}
      <div style={{ position: 'absolute', left: 0, top: 412 }}>
        <ComposedChart width={1125} height={88} data={rows} margin={{ top: 1, right: 0, bottom: 3, left: 2 }} barCategoryGap={0}>
          <CartesianGrid vertical={false} stroke={GRID} strokeDasharray="1 3" />
          <XAxis dataKey="i" hide />
          <YAxis orientation="right" width={35} type="number" domain={[0, 2098.6]} allowDataOverflow ticks={oiTicks} interval={0}
            axisLine={{ stroke: LINE }} tickLine={{ stroke: LINE }} tickSize={2} tickMargin={1}
            tick={rightTick(() => '#23a8a8', (v) => String(Math.round(v * 1000)), 8)} />
          <Bar dataKey="oi" shape={ColumnBar} isAnimationActive={false} />
          {Object.values(pivots).map(([b], k) => (
            <ReferenceLine key={'yo' + k} x={b} stroke={yellow} strokeWidth={2.5} ifOverflow="visible" />
          ))}
        </ComposedChart>
      </div>

      {/* MACD pane */}
      <div style={{ position: 'absolute', left: 0, top: 500 }}>
        <ComposedChart width={1125} height={126} data={rows} margin={{ top: 0, right: 0, bottom: 0, left: 2 }} barCategoryGap={0}>
          <CartesianGrid vertical={false} stroke={GRID} strokeDasharray="1 3" />
          <XAxis dataKey="i" height={14} ticks={timeTicks} interval={0} axisLine={{ stroke: LINE }} tickLine={false} tickSize={0} tickMargin={0}
            tick={(p: any) => (
              <text x={p.x} y={p.y + 10} textAnchor="middle" fill={AX} fontSize={9.5} fontFamily={FONT}>
                {timeLabels[timeTicks.indexOf(p.payload.value)]}
              </text>
            )} />
          <YAxis orientation="right" width={35} type="number" domain={[-7.63, 14.1]} allowDataOverflow ticks={macdTicks} interval={0}
            axisLine={{ stroke: LINE }} tickLine={{ stroke: LINE }} tickSize={3} tickMargin={2}
            tick={rightTick((v) => (v >= 0 ? AX : '#22b022'), (v) => macdTickText[macdTicks.indexOf(v)])} />
          <Bar dataKey="hist" shape={HistBar} isAnimationActive={false} />
          {ma('diff', '#dcdcdc')}
          {ma('dea', '#c8c820')}
          {macdRed.map((s, k) => (
            <ReferenceLine key={'mr' + k} segment={[{ x: s[0][0], y: s[0][1] }, { x: s[1][0], y: s[1][1] }]} ifOverflow="visible" shape={arrowShape('#f03a3a', 3, 10)} />
          ))}
          {macdGreen.map((s, k) => (
            <ReferenceLine key={'mg' + k} segment={[{ x: s[0][0], y: s[0][1] }, { x: s[1][0], y: s[1][1] }]} ifOverflow="visible" shape={arrowShape('#3c963c', 2.5, 10)} />
          ))}
          {macdDrop.map(([b, v], k) => (
            <ReferenceLine key={'yd' + k} segment={[{ x: b, y: 14.1 }, { x: b, y: v }]} ifOverflow="visible" shape={arrowShape(yellow, 2.5, 8)} />
          ))}
        </ComposedChart>
      </div>

      {/* frame lines */}
      <div style={{ position: 'absolute', left: 0, top: 0, width: 1125, height: 1, background: '#9a9a9a' }} />
      <div style={{ position: 'absolute', left: 0, top: 0, width: 1, height: 613, background: LINE }} />
      {[344, 412, 500].map((y) => (
        <div key={y} style={{ position: 'absolute', left: 0, top: y, width: 1125, height: 1, background: LINE }} />
      ))}

      {/* headers */}
      <Header top={2} items={[
        [2, '#c0c0c0', '30分钟(复权)'],
        [54, '#e8e8e8', '铁矿主连'],
        [90, '#e8e8e8', <>MA5: 592.8{up}</>],
        [143, '#e0e020', <>MA10: 591.0{up}</>],
        [199, '#e070e0', <>MA20: 587.8{up}</>],
        [256, '#20c020', <>MA30: 585.6{up}</>],
        [314, '#30b8d8', <>MA60: 591.7{dn}</>],
      ]} />
      <Header top={346} items={[
        [2, RED, <>总量 209458{dn}</>],
        [61, '#e0e020', <>MAVOL5: 164783.6{dn}</>],
        [143, '#dcdcdc', <>MAVOL10: 203279.2{up}</>],
      ]} />
      <Header top={413} items={[
        [2, '#e0e0e0', <>持仓量: 1681100{up}</>],
        [74, '#e0e020', <>仓差: 9090{dn}</>],
      ]} />
      <Header top={502} items={[
        [2, '#c8c8c8', 'MACD(12,26,9)'],
        [62, RED, <>MACD: +2.58{up}</>],
        [121, '#e8e8e8', <>DIFF: +1.78{up}</>],
        [176, '#e0e020', <>DEA: +0.489{up}</>],
      ]} />

      {/* buttons */}
      <Btn x={1011} y={2} w={30}>加自选</Btn>
      <Btn x={1041} y={2} w={23}>均线</Btn>
      <Btn x={1064} y={2} w={13}>窗</Btn>
      <Btn x={1077} y={2} w={13}>➜</Btn>
      <Btn x={1030} y={345} w={58}>成交量 ▾</Btn>
      <div style={{ position: 'absolute', left: 985, top: 413, fontSize: 8, lineHeight: '12px', fontFamily: MIX, color: '#c8c8c8', whiteSpace: 'nowrap' }}>☑持仓量☑仓差</div>
      <Btn x={1049} y={412} w={41}>指标说明</Btn>
      <Btn x={1049} y={502} w={41}>指标说明</Btn>
      <div style={{ position: 'absolute', left: 1094, top: 401, fontSize: 9, fontFamily: FONT, color: AX }}>X100</div>
    </div>
  )
}
